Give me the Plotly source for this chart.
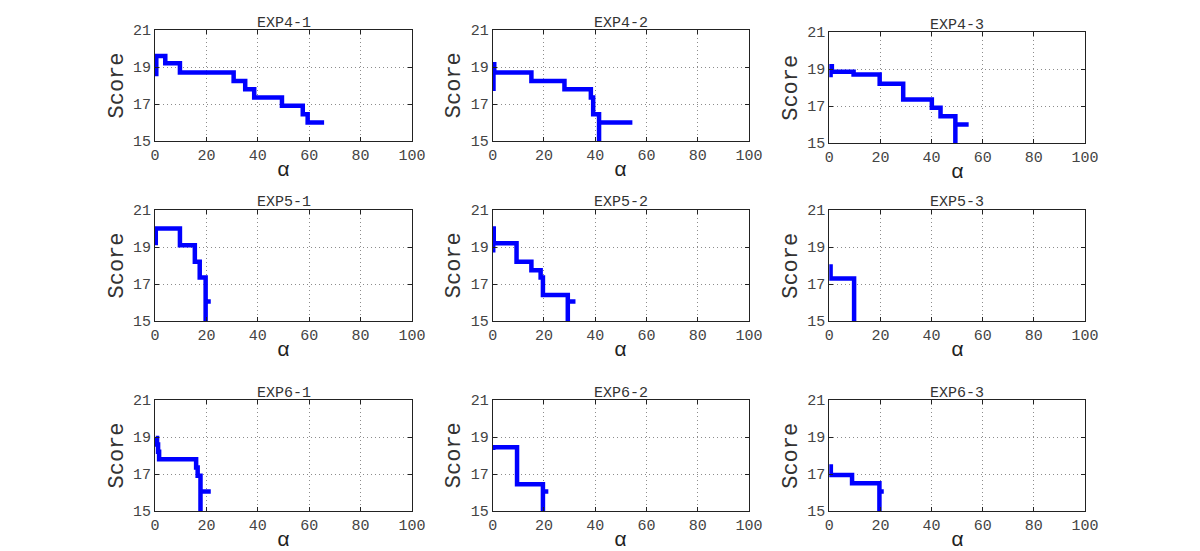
import plotly.graph_objects as go

# ---------------- data ----------------
panel_names = ["EXP4-1", "EXP4-2", "EXP4-3",
               "EXP5-1", "EXP5-2", "EXP5-3",
               "EXP6-1", "EXP6-2", "EXP6-3"]

exp4_1_alpha = [0.5, 0.5, 4.0, 9.7, 30.6, 35.1, 38.6, 49.4, 57.5, 59.4, 65.8]
exp4_1_score = [18.5, 19.6, 19.2, 18.7, 18.25, 17.8, 17.35, 16.9, 16.45, 16.0, 16.0]

exp4_2_alpha = [0.3, 0.3, 0.6, 15.1, 28.0, 38.3, 39.2, 41.5, 41.5, 54.5]
exp4_2_score = [17.7, 19.15, 18.7, 18.25, 17.8, 17.35, 16.45, 14.0, 16.0, 16.0]

exp4_3_alpha = [0.5, 0.5, 1.0, 9.5, 19.7, 28.9, 40.1, 43.5, 49.3, 49.3, 54.5]
exp4_3_score = [18.55, 19.15, 18.85, 18.7, 18.2, 17.35, 16.9, 16.45, 14.0, 16.0, 16.0]

exp5_1_alpha = [0.3, 0.3, 9.7, 15.5, 17.4, 19.7, 19.7, 21.7]
exp5_1_score = [19.1, 20.0, 19.1, 18.2, 17.35, 14.0, 16.05, 16.05]

exp5_2_alpha = [0.2, 0.2, 0.4, 9.3, 15.1, 18.7, 19.6, 29.3, 29.3, 32.3]
exp5_2_score = [18.7, 20.0, 19.2, 18.2, 17.75, 17.35, 16.4, 14.0, 16.05, 16.05]

exp5_3_alpha = [0.3, 0.3, 0.5, 9.7, 9.7, 10.5]
exp5_3_score = [17.25, 17.95, 17.3, 14.0, 16.05, 16.05]

exp6_1_alpha = [0.3, 0.8, 1.2, 1.6, 16.0, 16.6, 17.7, 17.7, 21.7]
exp6_1_score = [18.95, 18.6, 18.2, 17.8, 17.35, 16.9, 14.0, 16.05, 16.05]

exp6_2_alpha = [0.2, 0.2, 9.5, 19.6, 19.6, 21.7]
exp6_2_score = [18.3, 18.45, 16.45, 14.0, 16.05, 16.05]

exp6_3_alpha = [0.3, 0.3, 0.6, 8.9, 19.6, 19.6, 21.3]
exp6_3_score = [16.9, 17.4, 16.95, 16.5, 14.0, 16.05, 16.05]

alpha_series = [exp4_1_alpha, exp4_2_alpha, exp4_3_alpha,
                exp5_1_alpha, exp5_2_alpha, exp5_3_alpha,
                exp6_1_alpha, exp6_2_alpha, exp6_3_alpha]
score_series = [exp4_1_score, exp4_2_score, exp4_3_score,
                exp5_1_score, exp5_2_score, exp5_3_score,
                exp6_1_score, exp6_2_score, exp6_3_score]

x_tick_values = [0, 20, 40, 60, 80, 100]
y_tick_values = [15, 17, 19, 21]
x_label = "α"
y_label = "Score"

# ---------------- layout geometry (pixels, as seen in the window) ----------------
W, H = 1200, 551
PAGE_OFFSET = 8  # default page margin around the plot div
col_px = [(155.0, 412.0), (492.7, 749.0), (829.3, 1085.0)]
row_px = [(30.0, 141.0), (210.0, 321.0), (400.0, 511.0)]

FONT = "Liberation Mono"
AX_COLOR = "#222222"
TICK_TEXT = "#444444"

fig = go.Figure()
annotations = []
layout_axes = {}

for i in range(9):
    r, c = divmod(i, 3)
    x0, x1 = (v - PAGE_OFFSET for v in col_px[c])
    y0, y1 = (v - PAGE_OFFSET for v in row_px[r])
    if r == 0 and c == 2:
        y0, y1 = y0 + 2, y1 + 2
    sfx = "" if i == 0 else str(i + 1)
    xa, ya = "x" + sfx, "y" + sfx

    fig.add_trace(go.Scatter(
        x=alpha_series[i], y=score_series[i],
        mode="lines", xaxis=xa, yaxis=ya,
        line=dict(color="#0000ff", width=4.5, shape="hv"),
        showlegend=False, hoverinfo="x+y",
    ))

    common = dict(
        showline=True, linecolor=AX_COLOR, linewidth=1, mirror="ticks",
        ticks="inside", ticklen=4, tickcolor=AX_COLOR, tickwidth=1,
        showgrid=True, gridcolor="#8c8c8c", griddash="1px,3px", gridwidth=1,
        zeroline=False, automargin=False,
        tickfont=dict(family=FONT, size=15, color=TICK_TEXT),
        fixedrange=True,
    )
    layout_axes["xaxis" + sfx] = dict(
        domain=[x0 / W, x1 / W], anchor=ya, range=[0, 100],
        tickvals=x_tick_values, ticktext=[str(v) for v in x_tick_values],
        **common)
    layout_axes["yaxis" + sfx] = dict(
        domain=[1 - y1 / H, 1 - y0 / H], anchor=xa, range=[15, 21],
        tickvals=y_tick_values, ticktext=[str(v) for v in y_tick_values],
        **common)

    cx = (x0 + x1) / 2 / W
    # panel title
    annotations.append(dict(
        text=panel_names[i], x=cx, y=1 - (y0 - 7) / H,
        xref="paper", yref="paper", showarrow=False,
        xanchor="center", yanchor="middle",
        font=dict(family=FONT, size=15, color="#333333")))
    # x axis title
    annotations.append(dict(
        text=x_label, x=cx, y=1 - (y1 + 29) / H,
        xref="paper", yref="paper", showarrow=False,
        xanchor="center", yanchor="middle",
        font=dict(family=FONT, size=21, color="#222222")))
    # y axis title
    annotations.append(dict(
        text=y_label, x=(x0 - 38) / W, y=1 - (y0 + y1) / 2 / H,
        xref="paper", yref="paper", showarrow=False, textangle=-90,
        xanchor="center", yanchor="middle",
        font=dict(family=FONT, size=22, color="#333333")))

fig.update_layout(
    template="none",
    width=W, height=H,
    margin=dict(l=0, r=0, t=0, b=0, pad=0, autoexpand=False),
    paper_bgcolor="white", plot_bgcolor="white",
    showlegend=False,
    annotations=annotations,
    **layout_axes,
)

fig.write_html("out.html")
